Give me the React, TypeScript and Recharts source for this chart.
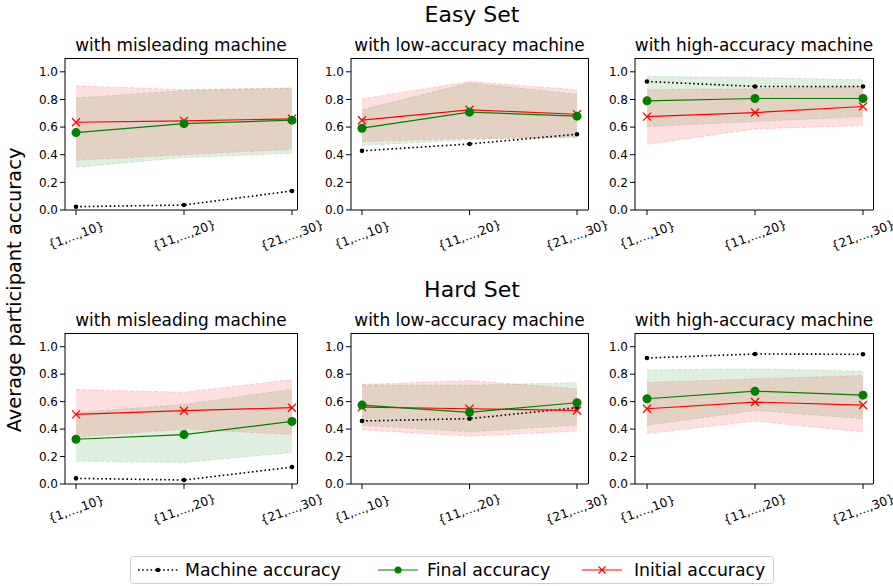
import { ComposedChart, Area, Line, XAxis, YAxis } from 'recharts';

const BINS = ['{1,...,10}', '{11,...,20}', '{21,...,30}'];
const Y_TICKS = [0, 0.2, 0.4, 0.6, 0.8, 1.0];

// Easy set
const easyMisMachine = [0.024, 0.036, 0.138];
const easyMisFinal = [0.56, 0.625, 0.65];
const easyMisFinalLo = [0.31, 0.38, 0.41];
const easyMisFinalHi = [0.81, 0.865, 0.88];
const easyMisInit = [0.635, 0.645, 0.66];
const easyMisInitLo = [0.36, 0.4, 0.44];
const easyMisInitHi = [0.9, 0.87, 0.885];

const easyLowMachine = [0.428, 0.478, 0.548];
const easyLowFinal = [0.592, 0.708, 0.679];
const easyLowFinalLo = [0.466, 0.51, 0.53];
const easyLowFinalHi = [0.725, 0.92, 0.838];
const easyLowInit = [0.65, 0.725, 0.693];
const easyLowInitLo = [0.495, 0.519, 0.524];
const easyLowInitHi = [0.804, 0.93, 0.87];

const easyHighMachine = [0.93, 0.894, 0.894];
const easyHighFinal = [0.79, 0.807, 0.807];
const easyHighFinalLo = [0.604, 0.64, 0.676];
const easyHighFinalHi = [0.966, 0.959, 0.942];
const easyHighInit = [0.676, 0.705, 0.749];
const easyHighInitLo = [0.476, 0.587, 0.611];
const easyHighInitHi = [0.87, 0.877, 0.894];

// Hard set
const hardMisMachine = [0.041, 0.029, 0.123];
const hardMisFinal = [0.326, 0.36, 0.456];
const hardMisFinalLo = [0.167, 0.157, 0.23];
const hardMisFinalHi = [0.52, 0.58, 0.69];
const hardMisInit = [0.507, 0.534, 0.556];
const hardMisInitLo = [0.34, 0.4, 0.36];
const hardMisInitHi = [0.688, 0.669, 0.761];

const hardLowMachine = [0.459, 0.476, 0.556];
const hardLowFinal = [0.575, 0.522, 0.592];
const hardLowFinalLo = [0.428, 0.38, 0.43];
const hardLowFinalHi = [0.72, 0.72, 0.739];
const hardLowInit = [0.56, 0.548, 0.536];
const hardLowInitLo = [0.396, 0.348, 0.386];
const hardLowInitHi = [0.725, 0.754, 0.693];

const hardHighMachine = [0.918, 0.947, 0.945];
const hardHighFinal = [0.621, 0.676, 0.647];
const hardHighFinalLo = [0.428, 0.536, 0.476];
const hardHighFinalHi = [0.831, 0.838, 0.821];
const hardHighInit = [0.548, 0.597, 0.575];
const hardHighInitLo = [0.367, 0.459, 0.379];
const hardHighInitHi = [0.739, 0.766, 0.79];

const FONT = '"DejaVu Sans", sans-serif';
const GREEN = '#008000';
const RED = '#ff0000';

function buildRows(
  machine: number[], final: number[], finalLo: number[], finalHi: number[],
  initial: number[], initLo: number[], initHi: number[]
) {
  return BINS.map((bin, i) => ({
    bin,
    machine: machine[i],
    final: final[i],
    finalBand: [finalLo[i], finalHi[i]],
    initial: initial[i],
    initBand: [initLo[i], initHi[i]],
  }));
}

const XTick = (props: any) => {
  const { x, y, payload } = props;
  return (
    <g transform={`translate(${x},${y + 18})`}>
      <text transform="rotate(-20)" textAnchor="middle" dy="0.35em" fontSize={12.3} fontFamily={FONT} fill="#000">
        {payload.value}
      </text>
    </g>
  );
};

const Cross = (props: any) => {
  const { cx, cy, index } = props;
  const s = 4;
  return (
    <path
      key={`x-${index}`}
      d={`M${cx - s},${cy - s}L${cx + s},${cy + s}M${cx - s},${cy + s}L${cx + s},${cy - s}`}
      stroke={RED}
      strokeWidth={1.3}
      fill="none"
    />
  );
};

interface PanelProps {
  rows: ReturnType<typeof buildRows>;
  left: number;
  top: number;
  plotW: number;
  plotH: number;
  padL: number;
  padR: number;
}

function Panel({ rows, left, top, plotW, plotH, padL, padR }: PanelProps) {
  const yW = 45;
  const extraR = 40;
  const mTop = 10;
  const xH = 50;
  return (
    <>
      <div style={{ position: 'absolute', left: left - yW, top: top - mTop }}>
        <ComposedChart
          width={yW + plotW + extraR}
          height={mTop + plotH + xH}
          data={rows}
          margin={{ top: mTop, right: extraR, bottom: 0, left: 0 }}
          style={{ overflow: 'visible' }}
        >
          <XAxis
            dataKey="bin"
            scale="point"
            padding={{ left: padL, right: padR }}
            height={xH}
            interval={0}
            tick={<XTick />}
            tickSize={5}
            tickMargin={2}
            axisLine={{ stroke: '#000' }}
            tickLine={{ stroke: '#000' }}
          />
          <YAxis
            domain={[0, 1.1]}
            ticks={Y_TICKS}
            tickFormatter={(v: number) => v.toFixed(1)}
            width={yW}
            tickSize={5}
            tickMargin={2}
            tick={{ fontSize: 12, fontFamily: FONT, fill: '#000' }}
            axisLine={{ stroke: '#000' }}
            tickLine={{ stroke: '#000' }}
          />
          <Area
            type="linear"
            dataKey="finalBand"
            fill={GREEN}
            fillOpacity={0.12}
            stroke={GREEN}
            strokeOpacity={0.15}
            strokeDasharray="4 2"
            dot={false}
            activeDot={false}
            isAnimationActive={false}
          />
          <Area
            type="linear"
            dataKey="initBand"
            fill={RED}
            fillOpacity={0.12}
            stroke={RED}
            strokeOpacity={0.15}
            strokeDasharray="4 2"
            dot={false}
            activeDot={false}
            isAnimationActive={false}
          />
          <Line
            type="linear"
            dataKey="machine"
            stroke="#000"
            strokeWidth={1.6}
            strokeDasharray="1.6 2.6"
            dot={{ r: 2.3, fill: '#000', stroke: 'none' }}
            activeDot={false}
            isAnimationActive={false}
          />
          <Line
            type="linear"
            dataKey="initial"
            stroke={RED}
            strokeWidth={1.2}
            dot={<Cross />}
            activeDot={false}
            isAnimationActive={false}
          />
          <Line
            type="linear"
            dataKey="final"
            stroke={GREEN}
            strokeWidth={1.2}
            dot={{ r: 4.5, fill: GREEN, stroke: 'none' }}
            activeDot={false}
            isAnimationActive={false}
          />
        </ComposedChart>
      </div>
      {/* top and right spines to close the box like matplotlib */}
      <div
        style={{
          position: 'absolute',
          left: left,
          top: top - 0.5,
          width: plotW + 0.5,
          height: plotH + 0.5,
          boxSizing: 'border-box',
          borderTop: '1px solid #000',
          borderRight: '1px solid #000',
          pointerEvents: 'none',
        }}
      />
    </>
  );
}

const COLS = [
  { left: 65, plotW: 232, padL: 11, padR: 5, title: 'with misleading machine' },
  { left: 351, plotW: 237, padL: 11, padR: 11, title: 'with low-accuracy machine' },
  { left: 635, plotW: 238, padL: 12, padR: 10, title: 'with high-accuracy machine' },
];
const ROWS = [
  { top: 58, plotH: 152, title: 'Easy Set' },
  { top: 333, plotH: 151, title: 'Hard Set' },
];

const panelData = [
  [
    buildRows(easyMisMachine, easyMisFinal, easyMisFinalLo, easyMisFinalHi, easyMisInit, easyMisInitLo, easyMisInitHi),
    buildRows(easyLowMachine, easyLowFinal, easyLowFinalLo, easyLowFinalHi, easyLowInit, easyLowInitLo, easyLowInitHi),
    buildRows(easyHighMachine, easyHighFinal, easyHighFinalLo, easyHighFinalHi, easyHighInit, easyHighInitLo, easyHighInitHi),
  ],
  [
    buildRows(hardMisMachine, hardMisFinal, hardMisFinalLo, hardMisFinalHi, hardMisInit, hardMisInitLo, hardMisInitHi),
    buildRows(hardLowMachine, hardLowFinal, hardLowFinalLo, hardLowFinalHi, hardLowInit, hardLowInitLo, hardLowInitHi),
    buildRows(hardHighMachine, hardHighFinal, hardHighFinalLo, hardHighFinalHi, hardHighInit, hardHighInitLo, hardHighInitHi),
  ],
];

function LegendBox() {
  return (
    <div style={{ position: 'absolute', left: 130, top: 556 }}>
      <svg width={644} height={28}>
        <rect x={0.5} y={0.5} width={643} height={27} rx={3} fill="#fff" stroke="#d0d0d0" />
        <line x1={8} y1={14} x2={48} y2={14} stroke="#000" strokeWidth={1.6} strokeDasharray="1.6 2.6" />
        <circle cx={28} cy={14} r={2.3} fill="#000" />
        <text x={55} y={14} dy="0.35em" fontSize={17.3} fontFamily={FONT} fill="#000">Machine accuracy</text>
        <line x1={248} y1={14} x2={288} y2={14} stroke={GREEN} strokeWidth={1.2} />
        <circle cx={268} cy={14} r={3.5} fill={GREEN} />
        <text x={297} y={14} dy="0.35em" fontSize={17.3} fontFamily={FONT} fill="#000">Final accuracy</text>
        <line x1={452} y1={14} x2={492} y2={14} stroke={RED} strokeWidth={1.2} />
        <path d="M468.5,10.5L475.5,17.5M468.5,17.5L475.5,10.5" stroke={RED} strokeWidth={1.2} />
        <text x={504} y={14} dy="0.35em" fontSize={17.3} fontFamily={FONT} fill="#000">Initial accuracy</text>
      </svg>
    </div>
  );
}

export default function App() {
  return (
    <div style={{ position: 'absolute', left: 0, top: 0, width: 893, height: 586, background: '#fff', fontFamily: FONT }}>
      {ROWS.map((row, r) =>
        COLS.map((col, c) => (
          <Panel
            key={`${r}-${c}`}
            rows={panelData[r][c]}
            left={col.left}
            top={row.top}
            plotW={col.plotW}
            plotH={row.plotH}
            padL={col.padL}
            padR={col.padR}
          />
        ))
      )}
      <svg width={893} height={586} style={{ position: 'absolute', left: 0, top: 0, pointerEvents: 'none' }}>
        {ROWS.map((row) => (
          <text key={row.title} x={472} y={row.top - 44} dy="0.35em" textAnchor="middle" fontSize={22} fontFamily={FONT} fill="#000">
            {row.title}
          </text>
        ))}
        {ROWS.map((row) =>
          COLS.map((col) => (
            <text
              key={`${row.title}-${col.title}`}
              x={col.left + col.plotW / 2}
              y={row.top - 13}
              dy="0.35em"
              textAnchor="middle"
              fontSize={16.9}
              fontFamily={FONT}
              fill="#000"
            >
              {col.title}
            </text>
          ))
        )}
        <text x={14} y={290} dy="0.35em" textAnchor="middle" fontSize={19.4} fontFamily={FONT} fill="#000" transform="rotate(-90 14 290)">
          Average participant accuracy
        </text>
      </svg>
      <LegendBox />
    </div>
  );
}
